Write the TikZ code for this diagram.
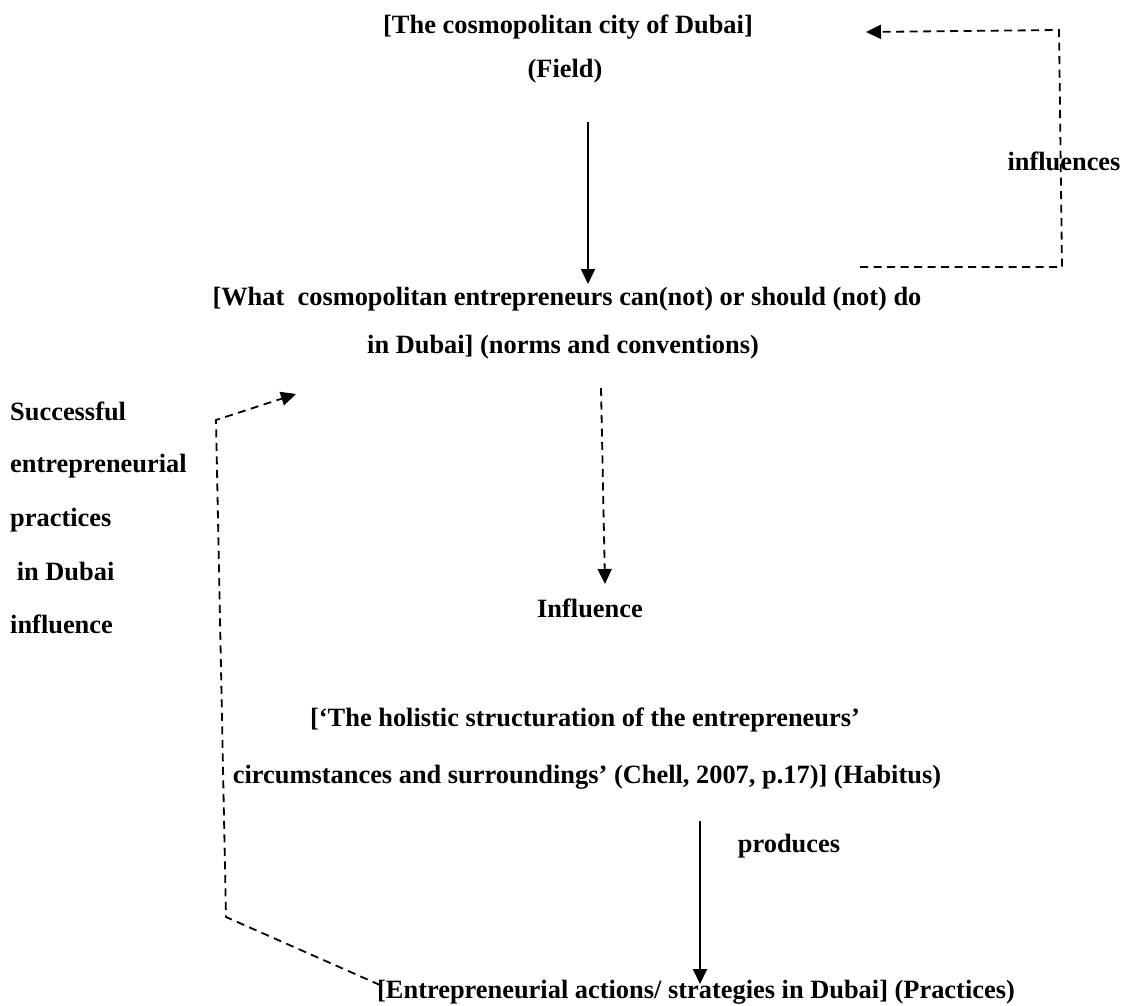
\documentclass[tikz,border=0pt]{standalone}
\usepackage{fontspec}
\setmainfont{Liberation Serif}
\usetikzlibrary{arrows.meta}
\begin{document}
\begin{tikzpicture}[x=1pt,y=-1pt,
  lbl/.style={font={\fontsize{26.4}{32}\selectfont\bfseries}, inner sep=0pt, anchor=base},
  lbll/.style={lbl, anchor=base west},
  solidarrow/.style={line width=1.8pt, -{Triangle[width=14pt,length=15pt]}},
  dasharrow/.style={line width=1.8pt, dash pattern=on 8pt off 5.5pt, -{Triangle[width=14pt,length=15pt]}}]
\useasboundingbox (0,0) rectangle (1126,1005);
% texts
\node[lbl] (field1) at (568,33) {[The cosmopolitan city of Dubai]};
\node[lbl] (field2) at (565,77) {(Field)};
\node[lbl] (norms1) at (567,305) {[What\ \ cosmopolitan entrepreneurs can(not) or should (not) do};
\node[lbl] (norms2) at (563,353) {in Dubai] (norms and conventions)};
\node[lbl] (infl) at (590,617) {Influence};
\node[lbl] (infls) at (1064,170) {influences};
\node[lbll] (s1) at (10,420) {Successful};
\node[lbll] (s2) at (10,472) {entrepreneurial};
\node[lbll] (s3) at (10,526) {practices};
\node[lbll] (s4) at (10,580) {\ in Dubai};
\node[lbll] (s5) at (10,633) {influence};
\node[lbl] (hab1) at (585,726) {[‘The holistic structuration of the entrepreneurs’};
\node[lbl] (hab2) at (587,783) {circumstances and surroundings’ (Chell, 2007, p.17)] (Habitus)};
\node[lbl] (prod) at (789,852) {produces};
\node[lbl] (prac) at (696,998) {[Entrepreneurial actions/ strategies in Dubai] (Practices)};
% coordinates
\coordinate (a1s) at (588,122);
\coordinate (a1e) at (588,284);
\coordinate (r1) at (860,267);
\coordinate (r2) at (1062,267);
\coordinate (r3) at (1059,30);
\coordinate (r4) at (866,32);
\coordinate (d1s) at (601,388);
\coordinate (d1e) at (605,584);
\coordinate (a2s) at (700,821);
\coordinate (a2e) at (700,984);
\coordinate (l1) at (380,985);
\coordinate (l2) at (226,917);
\coordinate (l3) at (216,420);
\coordinate (l4) at (296,394);
% connectors
\draw[solidarrow] (a1s) -- (a1e);
\draw[dasharrow] (r1) -- (r2) -- (r3) -- (r4);
\draw[dasharrow] (d1s) -- (d1e);
\draw[solidarrow] (a2s) -- (a2e);
\draw[dasharrow] (l1) -- (l2) -- (l3) -- (l4);
\end{tikzpicture}
\end{document}
